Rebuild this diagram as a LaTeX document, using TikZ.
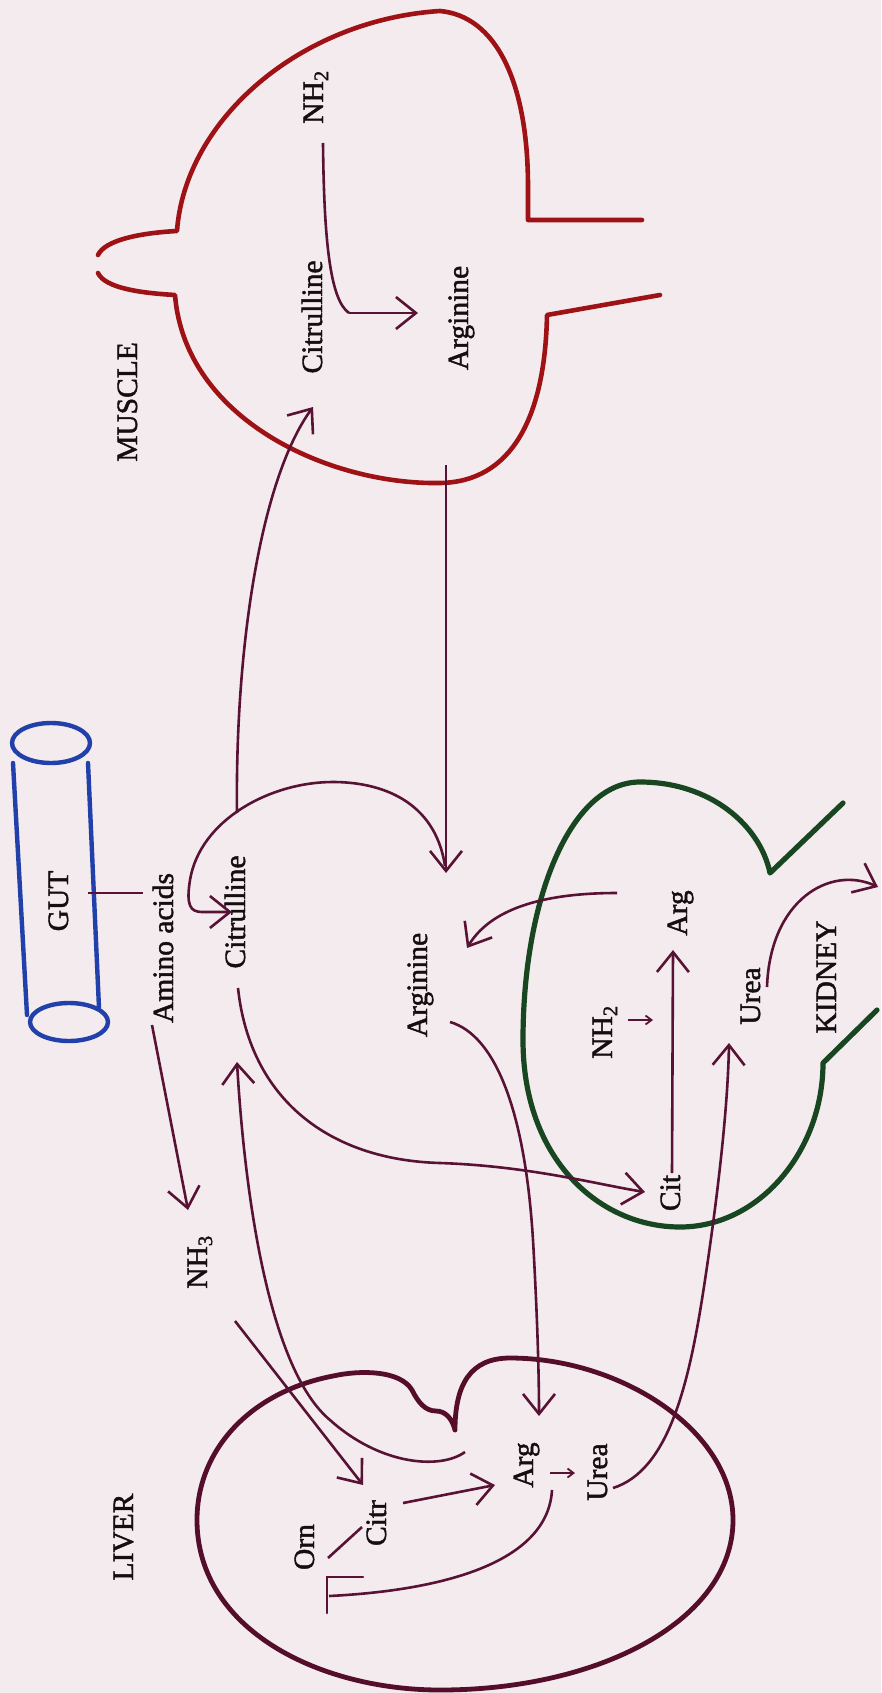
\documentclass[tikz,border=0pt]{standalone}
\usepackage{fontspec}
\setmainfont{Liberation Serif}[FakeBold=1.5]
\usetikzlibrary{arrows.meta}
\definecolor{bgcol}{RGB}{244,235,239}
\definecolor{musclecol}{RGB}{158,18,22}
\definecolor{conncol}{RGB}{88,18,52}
\definecolor{livercol}{RGB}{85,14,42}
\definecolor{kidneycol}{RGB}{24,70,32}
\definecolor{gutcol}{RGB}{34,64,170}
\definecolor{txtcol}{RGB}{20,14,16}
\newcommand\lblfont{\fontsize{29.5}{31}\selectfont}
\begin{document}
\begin{tikzpicture}[x=1pt,y=-1pt,
  lbl/.style={rotate=90,anchor=base,inner sep=0pt,font=\lblfont,text=txtcol},
  conn/.style={draw=conncol,line width=2.6pt},
  arr/.style={conn,-{Straight Barb[length=20pt,width=32pt]}},
  smallarr/.style={conn,line width=1.8pt,-{Straight Barb[length=6pt,width=9pt]}},
  organ/.style={line cap=round,line join=round},
  muscleline/.style={organ,draw=musclecol,line width=4.6pt},
  liverline/.style={organ,draw=livercol,line width=4.8pt},
  kidneyline/.style={organ,draw=kidneycol,line width=5.2pt},
  gutline/.style={organ,draw=gutcol,line width=4.4pt}]
\useasboundingbox (0,0) rectangle (881,1693);
\fill[bgcol] (0,0) rectangle (881,1693);

% ---------- MUSCLE outline ----------
\draw[muscleline] (98,255) .. controls (105,240) and (140,233) .. (177,231)
   .. controls (185,120) and (300,20) .. (440,11)
   .. controls (495,16) and (528,80) .. (528,187) -- (528,220) -- (642,220);
\draw[muscleline] (98,273) .. controls (105,288) and (140,293) .. (175,295)
   .. controls (185,420) and (330,485) .. (440,483)
   .. controls (510,482) and (545,420) .. (547,315) -- (660,295);

% ---------- GUT ----------
\draw[gutline] (51,743) ellipse [x radius=39pt, y radius=20pt];
\draw[gutline] (13,763) -- (27,1015);
\draw[gutline] (88,763) -- (99,1008);
\draw[gutline] (69,1022) ellipse [x radius=39pt, y radius=19pt];

% ---------- KIDNEY outline ----------
\draw[kidneyline] (843,803) -- (770,873)
   .. controls (760,825) and (710,782) .. (640,782)
   .. controls (570,782) and (523,900) .. (523,1040)
   .. controls (523,1160) and (600,1227) .. (680,1227)
   .. controls (760,1227) and (823,1150) .. (823,1063) -- (877,1010);

% ---------- LIVER outline ----------
\draw[liverline] (455,1430) .. controls (452,1418) and (445,1411) .. (436,1411)
   .. controls (425,1411) and (418,1402) .. (412,1390)
   .. controls (400,1370) and (360,1370) .. (333,1376)
   .. controls (250,1392) and (197,1450) .. (197,1520)
   .. controls (197,1630) and (320,1690) .. (440,1690)
   .. controls (600,1690) and (733,1620) .. (733,1520)
   .. controls (733,1430) and (620,1358) .. (510,1358)
   .. controls (470,1358) and (455,1385) .. (455,1430);

% ---------- labels ----------
\node[lbl] (muscle) at (137,402) {MUSCLE};
\node[lbl] (m-nh2) at (323,97) {NH\textsubscript{2}};
\node[lbl] (m-cit) at (322,317) {Citrulline};
\node[lbl] (m-arg) at (468,318) {Arginine};
\node[lbl] (gut) at (68,901) {GUT};
\node[lbl] (amino) at (173,948) {Amino acids};
\node[lbl] (g-cit) at (245,912) {Citrulline};
\node[lbl] (g-arg) at (427,985) {Arginine};
\node[lbl] (g-nh3) at (207,1262) {NH\textsubscript{3}};
\node[lbl] (k-nh2) at (612,1032) {NH\textsubscript{2}};
\node[lbl] (k-arg) at (687,913) {Arg};
\node[lbl] (k-cit) at (680,1193) {Cit};
\node[lbl] (k-urea) at (760,996) {Urea};
\node[lbl] (kidney) at (836,977) {KIDNEY};
\node[lbl] (liver) at (133,1537) {LIVER};
\node[lbl] (orn) at (314,1547) {Orn};
\node[lbl] (citr) at (386,1523) {Citr};
\node[lbl] (l-arg) at (533,1465) {Arg};
\node[lbl] (l-urea) at (607,1472) {Urea};

% ---------- connector end points ----------
\coordinate (mnh2s) at (323,143);
\coordinate (mjoin) at (349,313);
\coordinate (mtip) at (418,313);
\coordinate (arcstart) at (237,813);
\coordinate (musclein) at (313,407);
\coordinate (margs) at (446,465);
\coordinate (margt) at (446,873);
\coordinate (arcR) at (445,866);
\coordinate (gcittip) at (232,912);
\coordinate (tubeout) at (88,893);
\coordinate (aminoend) at (143,893);
\coordinate (aminos) at (152,1025);
\coordinate (nh3tip) at (188,1210);
\coordinate (lcits) at (465,1452);
\coordinate (gcitin) at (237,1062);
\coordinate (nh3s) at (235,1321);
\coordinate (citrtip) at (363,1485);
\coordinate (orna) at (328,1558);
\coordinate (ornb) at (362,1527);
\coordinate (citrs) at (403,1503);
\coordinate (largtip) at (495,1485);
\coordinate (sarga) at (550,1473);
\coordinate (sargb) at (575,1473);
\coordinate (cycs) at (552,1490);
\coordinate (cyce) at (329,1596);
\coordinate (cyca) at (363,1577);
\coordinate (cycb) at (327,1577);
\coordinate (cycc) at (327,1613);
\coordinate (lureas) at (613,1488);
\coordinate (kureatip) at (729,1043);
\coordinate (gargs) at (450,1022);
\coordinate (largin) at (539,1416);
\coordinate (gcits) at (238,988);
\coordinate (kcittip) at (645,1192);
\coordinate (kcits) at (672,1173);
\coordinate (kargtip) at (673,950);
\coordinate (knh2a) at (628,1020);
\coordinate (knh2b) at (653,1020);
\coordinate (kureas) at (767,987);
\coordinate (kout) at (878,887);
\coordinate (kargs) at (617,893);
\coordinate (gargtip) at (467,948);

% ---------- connectors ----------
% muscle
\draw[conn] (mnh2s) .. controls (324,240) and (330,300) .. (mjoin);
\draw[arr] (mjoin) -- (mtip);
\draw[arr] (arcstart) .. controls (235,650) and (260,480) .. (musclein);
\draw[arr] (margs) -- (margt);
% arc into gut citrulline
\draw[arr] (arcR) .. controls (435,800) and (380,782) .. (333,782)
   .. controls (270,782) and (200,820) .. (190,880)
   .. controls (186,905) and (190,912) .. (202,912) -- (gcittip);
% gut
\draw[conn] (tubeout) -- (aminoend);
\draw[arr] (aminos) -- (nh3tip);
\draw[arr] (lcits) .. controls (440,1470) and (380,1465) .. (330,1420)
   .. controls (270,1370) and (245,1200) .. (gcitin);
% liver
\draw[arr] (nh3s) -- (citrtip);
\draw[conn] (orna) -- (ornb);
\draw[arr] (citrs) -- (largtip);
\draw[smallarr] (sarga) -- (sargb);
\draw[conn] (cycs) .. controls (548,1560) and (450,1590) .. (cyce);
\draw[conn,line cap=round] (cyca) -- (cycb) -- (cycc);
\draw[arr] (lureas) .. controls (670,1470) and (690,1380) .. (705,1280)
   .. controls (720,1180) and (728,1100) .. (kureatip);
\draw[arr] (gargs) .. controls (495,1035) and (525,1110) .. (533,1240)
   .. controls (537,1310) and (539,1370) .. (largin);
% kidney
\draw[arr] (gcits) .. controls (250,1100) and (330,1160) .. (440,1163)
   .. controls (530,1166) and (600,1185) .. (kcittip);
\draw[arr] (kcits) -- (kargtip);
\draw[smallarr] (knh2a) -- (knh2b);
\draw[arr] (kureas) .. controls (770,900) and (830,865) .. (kout);
\draw[arr] (kargs) .. controls (540,893) and (490,910) .. (gargtip);
\end{tikzpicture}
\end{document}
